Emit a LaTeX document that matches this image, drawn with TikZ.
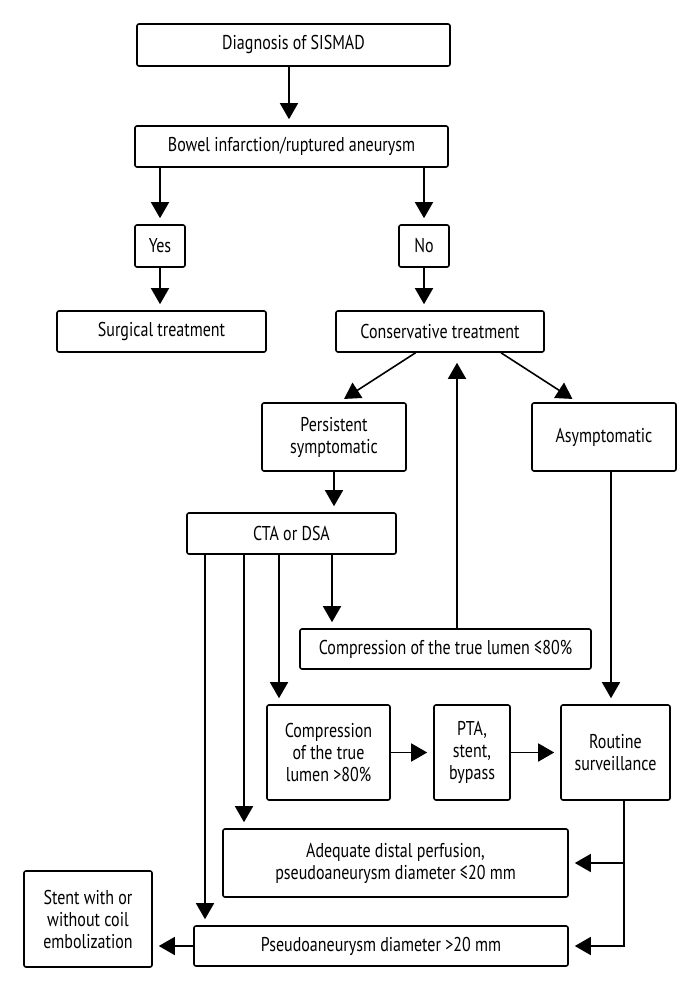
\documentclass[tikz,border=0pt]{standalone}
\usepackage{fontspec}
\setmainfont{PT Sans}[FakeStretch=0.8]
\usetikzlibrary{arrows.meta}

\begin{document}
\begin{tikzpicture}[x=0.5pt, y=-0.5pt,
	box/.style={draw, line width=0.8pt, rounded corners=1pt, align=center, inner sep=0pt,
		font=\fontsize{10}{11}\selectfont},
	arr/.style={line width=0.8pt, -{Triangle[length=8pt,width=9pt]}, shorten >=3pt},
	ln/.style={line width=0.8pt}]
	\useasboundingbox (0,0) rectangle (690,999);
	% boxes
	\node [box, minimum width=156.5pt, minimum height=21pt] (diag) at (293.5,45) {Diagnosis of SISMAD};
	\node [box, minimum width=156.5pt, minimum height=20.5pt] (bowel) at (291.5,146.5) {Bowel infarction/ruptured aneurysm};
	\node [box, minimum width=25pt, minimum height=21pt] (yes) at (160,246) {Yes};
	\node [box, minimum width=25pt, minimum height=21pt] (no) at (424,246) {No};
	\node [box, minimum width=104.5pt, minimum height=20.5pt] (surg) at (161.5,331.5) {Surgical treatment};
	\node [box, minimum width=104pt, minimum height=20.5pt] (cons) at (440,331.5) {Conservative treatment};
	\node [box, minimum width=72pt, minimum height=34pt] (pers) at (334,437) {Persistent\\symptomatic};
	\node [box, minimum width=72pt, minimum height=34pt] (asym) at (604,437) {Asymptomatic};
	\node [box, minimum width=104.5pt, minimum height=20.5pt] (cta) at (291.5,533.5) {CTA or DSA};
	\node [box, minimum width=145.5pt, minimum height=20pt] (le80) at (445.5,649) {Compression of the true lumen ≤80\%};
	\node [box, minimum width=61.5pt, minimum height=47.5pt] (gt80) at (328.5,752.5) {Compression\\of the true\\lumen >80\%};
	\node [box, minimum width=38pt, minimum height=47.5pt] (pta) at (472,752.5) {PTA,\\stent,\\bypass};
	\node [box, minimum width=54.5pt, minimum height=47.5pt] (rout) at (615.5,752.5) {Routine\\surveillance};
	\node [box, minimum width=172.5pt, minimum height=34pt] (adeq) at (395.5,863) {Adequate distal perfusion,\\pseudoaneurysm diameter ≤20 mm};
	\node [box, minimum width=187pt, minimum height=20pt] (pseu) at (381,946) {Pseudoaneurysm diameter >20 mm};
	\node [box, minimum width=64pt, minimum height=48pt] (stent) at (88,919) {Stent with or\\without coil\\embolization};
	% connectors
	\draw [arr] ([xshift=-2.25pt]diag.south) coordinate (d1) -- (d1 |- bowel.north);
	\draw [arr] (bowel.south -| yes.north) -- (yes.north);
	\draw [arr] (bowel.south -| no.north) -- (no.north);
	\draw [arr] (yes.south) -- (yes.south |- surg.north);
	\draw [arr] (no.south) -- (no.south |- cons.north);
	\draw [arr] ([xshift=-12.25pt]cons.south) -- ([xshift=2.5pt]pers.north);
	\draw [arr] ([xshift=30.5pt]cons.south) -- ([xshift=-13.25pt]asym.north);
	\draw [arr, shorten >=5pt] ([xshift=5.75pt]le80.north) -- ([xshift=8.5pt]cons.south);
	\draw [arr] (pers.south) -- (pers.south |- cta.north);
	\coordinate (b1) at ([xshift=-43.25pt]cta.south);
	\coordinate (b2) at ([xshift=-23.75pt]cta.south);
	\coordinate (b3) at ([xshift=-6.25pt]cta.south);
	\coordinate (b4) at ([xshift=20.25pt]cta.south);
	\draw [arr] (b4) -- (b4 |- le80.north);
	\draw [arr] (b3) -- (b3 |- gt80.north);
	\draw [arr] (b2) -- (b2 |- adeq.north);
	\draw [arr] (b1) -- (b1 |- pseu.north);
	\coordinate (a1) at ([xshift=3.5pt]asym.south);
	\draw [arr] (a1) -- (a1 |- rout.north);
	\draw [arr] (gt80.east) -- (pta.west);
	\draw [arr] (pta.east) -- (rout.west);
	\coordinate (r1) at ([xshift=4.25pt]rout.south);
	\draw [arr] (r1) |- (pseu.east);
	\draw [arr] (r1 |- adeq.east) -- (adeq.east);
	\draw [arr] (pseu.west) -- (pseu.west -| stent.east);
\end{tikzpicture}
\end{document}
